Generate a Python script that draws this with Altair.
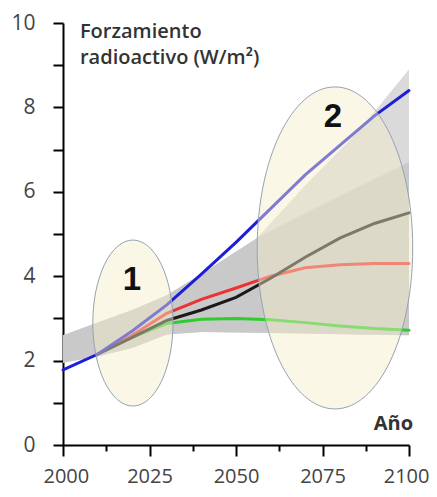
import altair as alt
import pandas as pd

# ---- data ----
blue_years = [2000, 2010, 2020, 2030, 2040, 2050, 2060, 2070, 2080, 2090, 2100]
blue_vals = [1.78, 2.15, 2.70, 3.32, 4.05, 4.80, 5.60, 6.40, 7.10, 7.80, 8.40]

other_years = [2010, 2020, 2030, 2040, 2050, 2060, 2070, 2080, 2090, 2100]
red_vals = [2.15, 2.60, 3.12, 3.45, 3.72, 4.00, 4.20, 4.27, 4.30, 4.30]
black_vals = [2.15, 2.55, 2.95, 3.20, 3.50, 3.95, 4.45, 4.90, 5.25, 5.50]
green_vals = [2.15, 2.55, 2.88, 2.98, 3.00, 2.97, 2.90, 2.82, 2.76, 2.72]

band_years = [2000, 2010, 2020, 2030, 2040, 2056, 2070, 2085, 2100]
band_low = [1.95, 2.10, 2.30, 2.62, 2.68, 2.66, 2.64, 2.62, 2.60]
band_inner_high = [2.60, 2.90, 3.20, 3.55, 4.05, 4.90, 5.50, 6.10, 6.70]
band_outer_high = [2.60, 2.90, 3.20, 3.55, 4.05, 4.90, 6.15, 7.40, 8.90]

ellipse_labels = ["1", "2"]
ellipse_x = [2020.2, 2078.6]
ellipse_y = [2.89, 4.67]
number_y = [3.91, 7.77]
number_x = [2019.9, 2078.0]

x_ticks = [2000, 2012.5, 2025, 2037.5, 2050, 2062.5, 2075, 2087.5, 2100]
y_ticks = [0, 1, 2, 3, 4, 5, 6, 7, 8, 9, 10]

title_lines = ["Forzamiento", "radioactivo (W/m²)"]
title_x = [2004.9, 2004.9]
title_y = [9.64, 9.04]

# ---- tables ----
lines = pd.concat([
    pd.DataFrame({"year": other_years, "val": green_vals, "s": "green"}),
    pd.DataFrame({"year": other_years, "val": red_vals, "s": "red"}),
    pd.DataFrame({"year": other_years, "val": black_vals, "s": "black"}),
    pd.DataFrame({"year": blue_years, "val": blue_vals, "s": "blue"}),
], ignore_index=True)
lines["o"] = range(len(lines))

band = pd.DataFrame({"year": band_years, "low": band_low,
                     "inner": band_inner_high, "outer": band_outer_high})
ell = pd.DataFrame({"x": ellipse_x, "y": ellipse_y, "label": ellipse_labels})
nums = pd.DataFrame({"x": number_x, "y": number_y, "label": ellipse_labels})
titles = pd.DataFrame({"x": title_x, "y": title_y, "t": title_lines})
ano = pd.DataFrame({"x": [2101.2], "y": [0.36], "t": ["Año"]})

xs = alt.Scale(domain=[2000, 2100], nice=False, zero=False)
ys = alt.Scale(domain=[0, 10], nice=False, zero=True)

x_axis = alt.Axis(
    values=x_ticks, title=None, grid=False, format="d",
    labelExpr="datum.value % 25 == 0 ? datum.label : ''",
    tickSize={"condition": {"test": "datum.value % 25 === 0", "value": 11}, "value": 6},
    labelPadding=10, labelFlush=True, labelFlushOffset=20,
    labelOverlap=False, labelFontSize=20,
)
y_axis = alt.Axis(
    values=y_ticks, title=None, grid=False,
    labelExpr="datum.value % 2 == 0 ? datum.label : ''",
    tickSize=10, labelPadding=18, labelOverlap=False, labelFontSize=21,
)

outer = alt.Chart(band).mark_area(color="#dadada", opacity=1).encode(
    x=alt.X("year:Q", scale=xs, axis=x_axis),
    y=alt.Y("low:Q", scale=ys, axis=y_axis),
    y2="outer:Q",
)
inner = alt.Chart(band).mark_area(color="#c9c9c9", opacity=1).encode(
    x=alt.X("year:Q", scale=xs),
    y=alt.Y("low:Q", scale=ys),
    y2="inner:Q",
)

line_layer = alt.Chart(lines).mark_line(strokeWidth=3, strokeCap="round").encode(
    x=alt.X("year:Q", scale=xs),
    y=alt.Y("val:Q", scale=ys),
    color=alt.Color("s:N", scale=alt.Scale(
        domain=["green", "red", "black", "blue"],
        range=["#2ecc2e", "#ec3232", "#1a1a1a", "#1e1ed8"]), legend=None),
    order="o:Q",
)

k = 0.5523
rx, ry = 0.483, 1.0
ell_path = (f"M{rx},0 C{rx},{k*ry:.4f} {k*rx:.4f},{ry} 0,{ry} "
            f"C{-k*rx:.4f},{ry} {-rx},{k*ry:.4f} {-rx},0 "
            f"C{-rx},{-k*ry:.4f} {-k*rx:.4f},{-ry} 0,{-ry} "
            f"C{k*rx:.4f},{-ry} {rx},{-k*ry:.4f} {rx},0 Z")

def ellipse(label, size):
    return alt.Chart(ell).transform_filter(alt.datum.label == label).mark_point(
        shape=ell_path, size=size, filled=True, fill="#f6edc7", fillOpacity=0.45,
        stroke="#93a3b3", strokeWidth=1, strokeOpacity=1, opacity=1,
    ).encode(x=alt.X("x:Q", scale=xs), y=alt.Y("y:Q", scale=ys))

e1 = ellipse("1", 27556)
e2 = ellipse("2", 103684)

num_layer = alt.Chart(nums).mark_text(
    font="Liberation Sans", fontSize=33, fontWeight="bold", color="#111111",
    align="center", baseline="middle",
).encode(x=alt.X("x:Q", scale=xs), y=alt.Y("y:Q", scale=ys), text="label:N")

title_layer = alt.Chart(titles).mark_text(
    font="Open Sans", fontSize=20, fontWeight=600, color="#333333",
    align="left", baseline="alphabetic",
).encode(x=alt.X("x:Q", scale=xs), y=alt.Y("y:Q", scale=ys), text="t:N")

ano_layer = alt.Chart(ano).mark_text(
    font="Open Sans", fontSize=20, fontWeight="bold", color="#333333",
    align="right", baseline="alphabetic",
).encode(x=alt.X("x:Q", scale=xs), y=alt.Y("y:Q", scale=ys), text="t:N")

chart = alt.layer(
    outer, inner, line_layer, e1, e2, num_layer, title_layer, ano_layer
).properties(
    width=346, height=422,
    autosize=alt.AutoSizeParams(type="none"),
    padding={"left": 55, "top": 15, "right": 20, "bottom": 43},
    background="white",
).configure_view(stroke=None).configure_axis(
    domainColor="black", domainWidth=2, tickColor="black", tickWidth=2,
    labelFont="Open Sans", labelColor="#444444",
)

chart.save("out.html", embed_options={"renderer": "svg", "actions": False})
